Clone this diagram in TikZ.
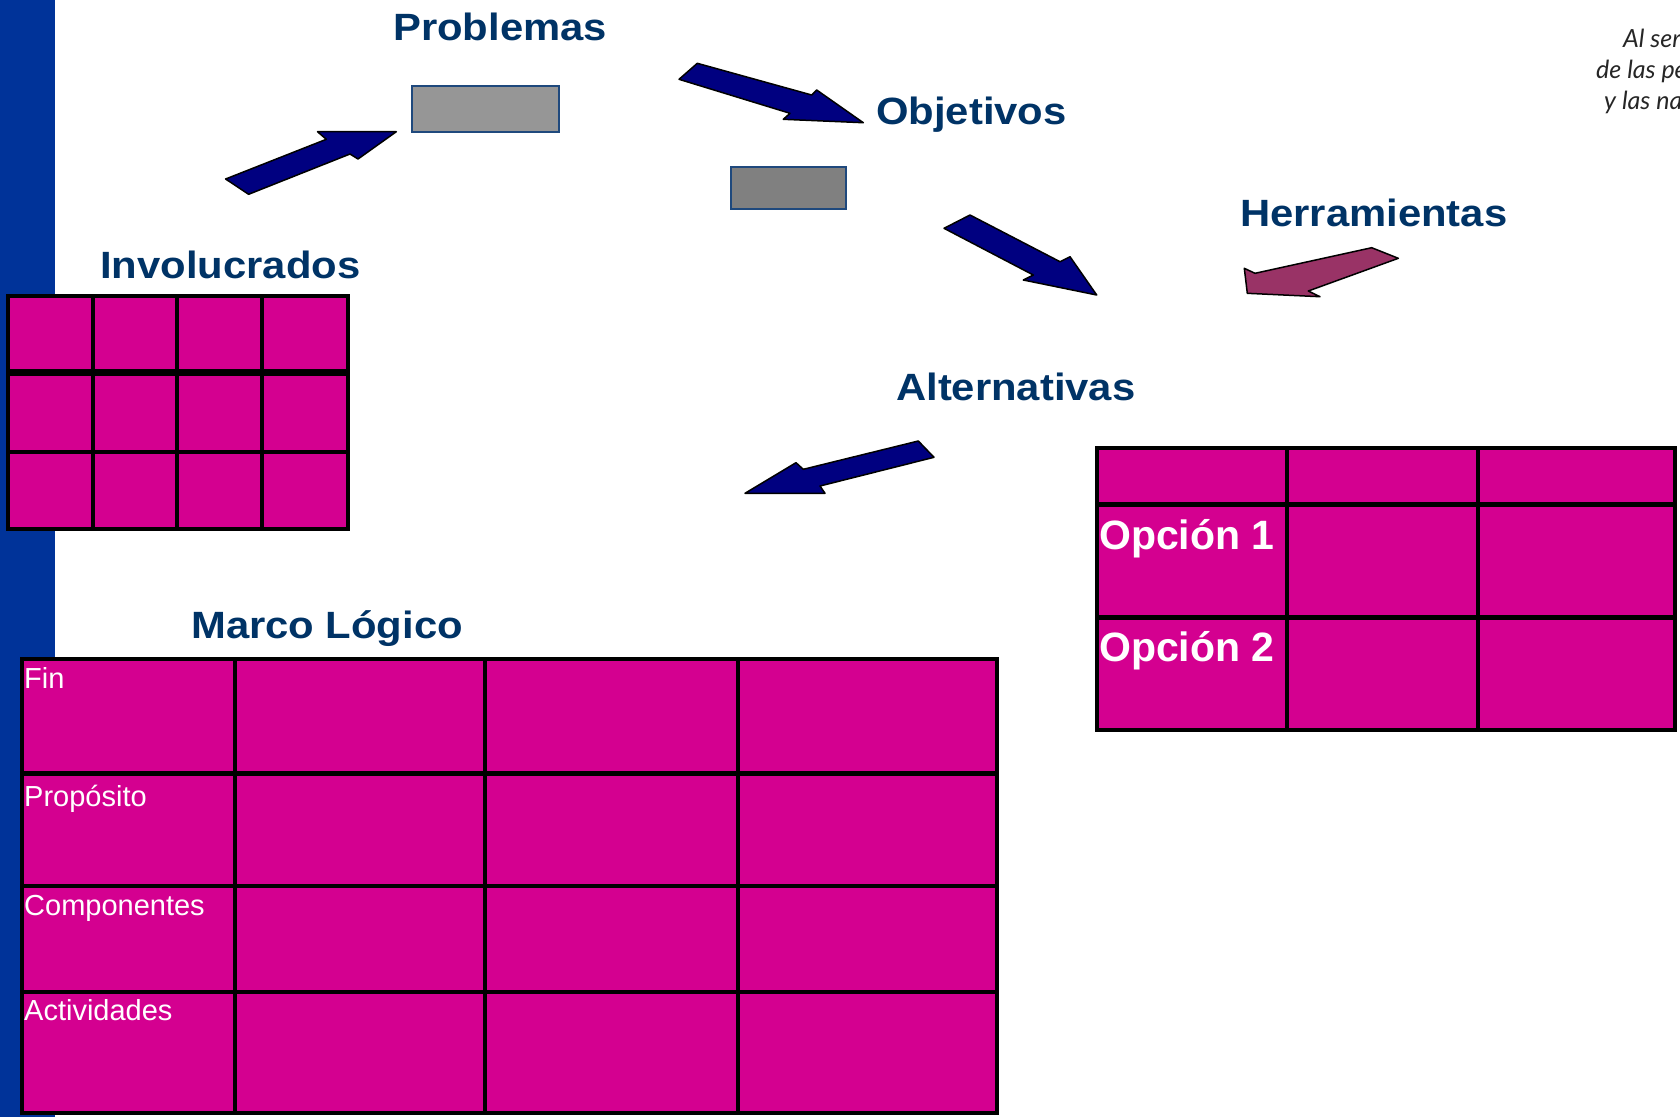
\documentclass[tikz,border=0pt]{standalone}
\usepackage{fontspec}
\setmainfont{Liberation Sans}
\newfontfamily\titlefont[FakeStretch=1.1]{Liberation Sans}
\newfontfamily\sloganfont{Lato}
\definecolor{titleblue}{HTML}{003366}
\definecolor{barblue}{HTML}{003399}
\definecolor{magcell}{HTML}{D40090}
\definecolor{navyfill}{HTML}{000080}
\definecolor{plumfill}{HTML}{993366}
\definecolor{grayA}{HTML}{969696}
\definecolor{grayB}{HTML}{808080}
\definecolor{boxedge}{HTML}{1F497D}
\begin{document}
\begin{tikzpicture}[x=1pt,y=-1pt,
  ttl/.style={anchor=base west, inner sep=0pt, text=titleblue,
    font=\titlefont\bfseries\fontsize{38}{44}\selectfont},
  rowlbl/.style={anchor=base west, inner sep=0pt, text=white,
    font=\fontsize{29}{34}\selectfont},
  optlbl/.style={anchor=base west, inner sep=0pt, text=white,
    font=\bfseries\fontsize{41}{48}\selectfont},
  slog/.style={anchor=base west, inner sep=0pt, text=black!85,
    font=\sloganfont\itshape\fontsize{25}{30}\selectfont},
  graybox/.style={draw=boxedge, line width=2pt, anchor=north west, inner sep=0pt},
  blockarrow/.style={draw=black, line width=1.5pt, line join=round},
  gridline/.style={draw=black, line width=#1},
  gridline/.default=4pt
]
\useasboundingbox (0,0) rectangle (1680,1117);
\fill[white] (0,0) rectangle (1680,1117);
% left bar
\fill[barblue] (0,0) rectangle (55,1117);

% titles
\node[ttl] (problemas) at (393,40) {Problemas};
\node[ttl] (objetivos) at (876,124) {Objetivos};
\node[ttl] (involucrados) at (100,278) {Involucrados};
\node[ttl] (herramientas) at (1240,226) {Herramientas};
\node[ttl] (alternativas) at (896,400) {Alternativas};
\node[ttl] (marco) at (191,638) {Marco Lógico};

% gray boxes
\node[graybox, fill=grayA, minimum width=147pt, minimum height=46pt] (pbox) at (411,85) {};
\node[graybox, fill=grayB, minimum width=115pt, minimum height=42pt] (obox) at (730,166) {};

% block arrows
\filldraw[blockarrow, fill=navyfill] (225.6,179) -- (248.6,194.3) -- (350,154) -- (358,159)
  -- (396.3,131.7) -- (317.5,131.7) -- (326.3,139.3) -- cycle;
\filldraw[blockarrow, fill=navyfill] (697.3,63.3) -- (679,79.3) -- (790,113.3) -- (783.3,119.3)
  -- (863.3,122.7) -- (816.7,90) -- (811.7,95) -- cycle;
\filldraw[blockarrow, fill=navyfill] (970,215) -- (944,228.3) -- (1033.3,275) -- (1023.3,280)
  -- (1096.7,295) -- (1070,256.7) -- (1060,261.7) -- cycle;
\filldraw[blockarrow, fill=plumfill] (1398.3,258.3) -- (1371.7,247.7) -- (1255,273.3) -- (1244.3,268.3)
  -- (1247.3,293.3) -- (1320,296.7) -- (1308.3,291) -- cycle;
\filldraw[blockarrow, fill=navyfill] (918.3,441) -- (934,457.3) -- (820,486) -- (825,493.3)
  -- (745,493.3) -- (796,462.7) -- (803.3,469.3) -- cycle;

% Involucrados table
\fill[magcell] (7.5,296) rectangle (348,529);
\draw[gridline] (7.5,296) rectangle (348,529);
\draw[gridline] (92.7,296) -- (92.7,529) (177,296) -- (177,529) (261.7,296) -- (261.7,529);
\draw[gridline=7pt] (7.5,372.7) -- (348,372.7);
\draw[gridline] (7.5,451.7) -- (348,451.7);

% Alternativas table
\fill[magcell] (1097,448) rectangle (1675,730);
\draw[gridline] (1097,448) rectangle (1675,730);
\draw[gridline] (1287,448) -- (1287,730) (1478,448) -- (1478,730);
\draw[gridline=5pt] (1097,504) -- (1675,504) (1097,617) -- (1675,617);
\node[optlbl] (op1) at (1099,549.3) {Opción 1};
\node[optlbl] (op2) at (1099,661.7) {Opción 2};

% Marco Logico table
\fill[magcell] (22,659) rectangle (997,1113);
\draw[gridline=3.5pt] (22,659) rectangle (997,1113);
\draw[gridline=3.5pt] (235,659) -- (235,1113) (485,659) -- (485,1113) (738,659) -- (738,1113);
\draw[gridline=5pt] (22,773) -- (997,773);
\draw[gridline=3.5pt] (22,886) -- (997,886) (22,992) -- (997,992);
\node[rowlbl] (fin) at (24,688) {Fin};
\node[rowlbl] (proposito) at (24,806.7) {Propósito};
\node[rowlbl] (componentes) at (24,915) {Componentes};
\node[rowlbl] (actividades) at (24,1020.7) {Actividades};

% slogan (cut at the right edge, as in the reference)
\begin{scope}
\clip (0,0) rectangle (1680,1117);
\node[slog] (s1) at (1623,47) {Al serv};
\node[slog] (s2) at (1596,78) {de las pe};
\node[slog] (s3) at (1604,109) {y las na};
\end{scope}
\end{tikzpicture}
\end{document}
